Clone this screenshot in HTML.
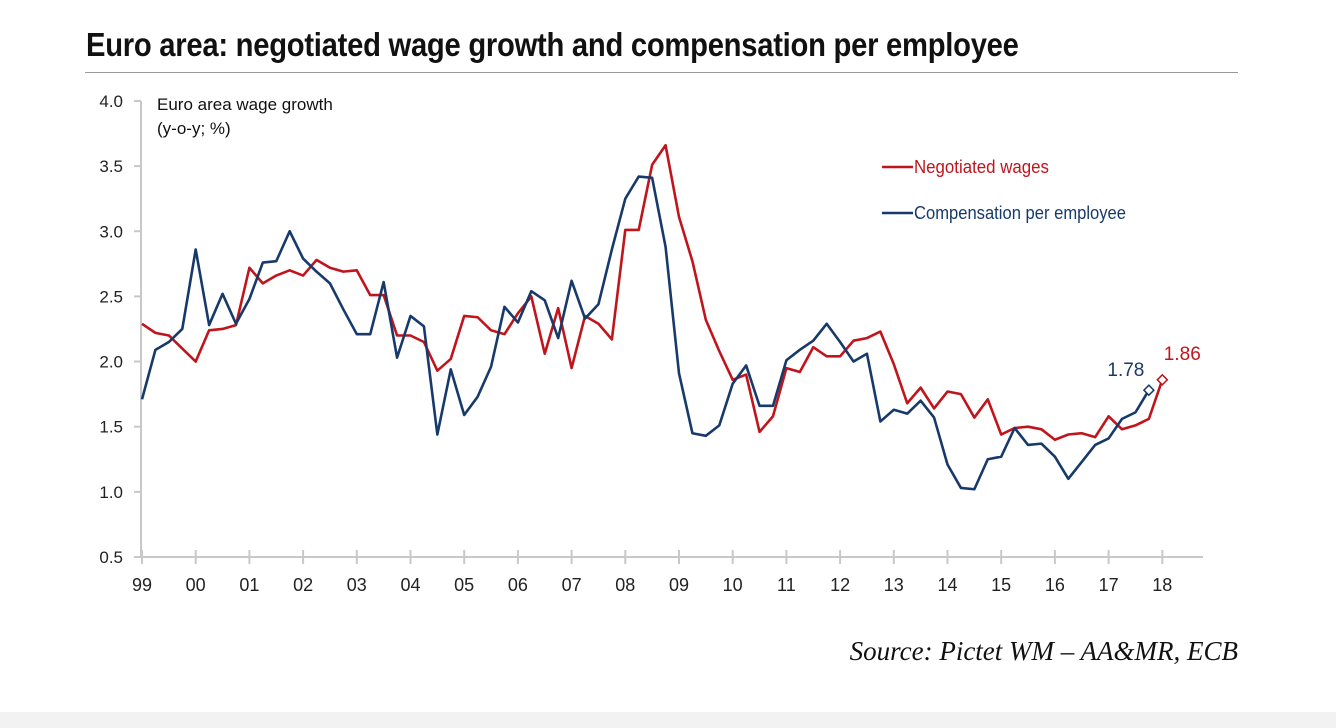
<!DOCTYPE html>
<html><head><meta charset="utf-8"><style>
body{margin:0;background:#fff;width:1336px;height:728px;overflow:hidden;position:relative;font-family:"Liberation Sans Narrow","Liberation Sans",sans-serif}
#title{position:absolute;left:86px;top:26px;font-size:33px;font-weight:bold;color:#111;letter-spacing:-0.3px;transform:scaleX(0.885);transform-origin:left top;white-space:nowrap}
#rule{position:absolute;left:85px;top:72px;width:1153px;height:1px;background:#999}
#src{position:absolute;right:98px;top:636px;font-family:"Liberation Serif",serif;font-style:italic;font-size:27px;color:#111}
#band{position:absolute;left:0;top:712px;width:1336px;height:16px;background:#f2f2f2}
</style></head><body>
<div id="title">Euro area: negotiated wage growth and compensation per employee</div>
<div id="rule"></div>
<svg id="chart" width="1336" height="728" style="position:absolute;left:0;top:0"></svg>
<div id="src">Source: Pictet WM – AA&amp;MR, ECB</div>
<div id="band"></div>
<script>
const yearLabels=["99","00","01","02","03","04","05","06","07","08","09","10","11","12","13","14","15","16","17","18"];
const yTicks=[0.5,1.0,1.5,2.0,2.5,3.0,3.5,4.0];
const negotiated=[2.29,2.22,2.20,2.10,2.00,2.24,2.25,2.28,2.72,2.60,2.66,2.70,2.66,2.78,2.72,2.69,2.70,2.51,2.51,2.20,2.20,2.15,1.93,2.02,2.35,2.34,2.24,2.21,2.37,2.50,2.06,2.41,1.95,2.35,2.29,2.17,3.01,3.01,3.51,3.66,3.11,2.77,2.32,2.08,1.86,1.90,1.46,1.58,1.95,1.92,2.11,2.04,2.04,2.16,2.18,2.23,1.98,1.68,1.80,1.64,1.77,1.75,1.57,1.71,1.44,1.49,1.50,1.48,1.40,1.44,1.45,1.42,1.58,1.48,1.51,1.56,1.86];
const compensation=[1.71,2.09,2.15,2.25,2.86,2.28,2.52,2.29,2.48,2.76,2.77,3.00,2.79,2.69,2.60,2.40,2.21,2.21,2.61,2.03,2.35,2.27,1.44,1.94,1.59,1.73,1.96,2.42,2.30,2.54,2.47,2.18,2.62,2.33,2.44,2.86,3.25,3.42,3.41,2.88,1.91,1.45,1.43,1.51,1.83,1.97,1.66,1.66,2.01,2.09,2.16,2.29,2.15,2.00,2.06,1.54,1.63,1.60,1.70,1.57,1.21,1.03,1.02,1.25,1.27,1.49,1.36,1.37,1.27,1.10,1.23,1.36,1.41,1.56,1.61,1.78];
const NS="http://www.w3.org/2000/svg";
const svg=document.getElementById('chart');
const x0=142,yearW=53.7,yBase=557,yScale=130.3;
const xq=i=>x0+i*yearW/4;
const yv=v=>yBase-(v-0.5)*yScale;
function mk(t,a){const e=document.createElementNS(NS,t);for(const k in a)e.setAttribute(k,a[k]);svg.appendChild(e);return e;}
const RED="#c0151c",BLUE="#173a6b",AX="#c8c8c8",FF='Liberation Sans Narrow, Liberation Sans, sans-serif';
let e=mk('line',{x1:141,y1:yv(0.5),x2:1203,y2:yv(0.5),stroke:AX,'stroke-width':2});

e=mk('line',{x1:141,y1:yv(4.0),x2:141,y2:yv(0.5),stroke:AX,'stroke-width':2});

yTicks.forEach(v=>{
 let t=mk('line',{x1:134,x2:141,y1:yv(v),y2:yv(v),stroke:AX,'stroke-width':2});
 
 let l=mk('text',{x:123,y:yv(v)+6,'text-anchor':'end','font-size':17,fill:'#222','font-family':FF});
 l.textContent=v.toFixed(1);
 
});
yearLabels.forEach((lab,i)=>{
 const x=xq(i*4);
 let t=mk('line',{x1:x,x2:x,y1:yv(0.5)-7,y2:yv(0.5)+7,stroke:AX,'stroke-width':2});
 
 let l=mk('text',{x:x,y:591,'text-anchor':'middle','font-size':18,fill:'#222','font-family':FF});
 l.textContent=lab;
 
});
function line(data,col,name){
 const p=mk('polyline',{points:data.map((v,i)=>xq(i)+','+yv(v)).join(' '),fill:'none',stroke:col,'stroke-width':2.6,'stroke-linejoin':'round'});
 
 const n=data.length-1,cx=xq(n),cy=yv(data[n]);
 const d=mk('polygon',{points:`${cx},${cy-5} ${cx+5},${cy} ${cx},${cy+5} ${cx-5},${cy}`,fill:'#fff',stroke:col,'stroke-width':1.5});
 
 return [cx,cy];
}
const [rx,ry]=line(negotiated,RED,'negotiated-wages-line');
const [bx,by]=line(compensation,BLUE,'compensation-line');
let t=mk('text',{x:rx+20,y:ry-20,'text-anchor':'middle','font-size':19,fill:RED,'font-family':FF});t.textContent=negotiated[negotiated.length-1].toFixed(2);

t=mk('text',{x:bx-23,y:by-14,'text-anchor':'middle','font-size':19,fill:BLUE,'font-family':FF});t.textContent=compensation[compensation.length-1].toFixed(2);

t=mk('text',{x:157,y:110,'font-size':17,fill:'#111','font-family':FF});t.textContent='Euro area wage growth';

t=mk('text',{x:157,y:134,'font-size':17,fill:'#111','font-family':FF});t.textContent='(y-o-y; %)';

[[RED,'Negotiated wages',167,135],[BLUE,'Compensation per employee',213,212]].forEach(([c,s,y,w])=>{
 let l=mk('line',{x1:882,x2:913,y1:y,y2:y,stroke:c,'stroke-width':2.6});
 
 let tx=mk('text',{x:914,y:y+6,'font-size':18,fill:c,'font-family':FF,textLength:w,lengthAdjust:'spacingAndGlyphs'});tx.textContent=s;
 
});
</script>
</body></html>
